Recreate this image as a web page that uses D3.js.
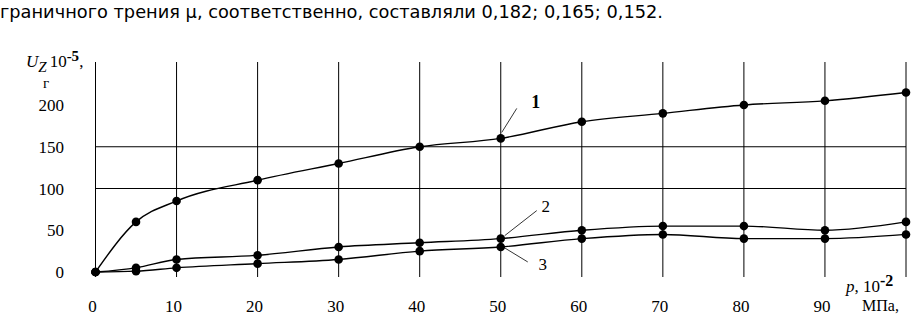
<!DOCTYPE html>
<html>
<head>
<meta charset="utf-8"/>
<script src="https://d3js.org/d3.v7.min.js"></script>
<style>
  body { margin: 0; background: #fff; }
  svg { display: block; }
  .serif { font-family: "Liberation Serif", "Times New Roman", serif; }
</style>
</head>
<body>
<div id="chart"></div>
<script>
  // pressure p, 10^-2 MPa
  const pressure = [0, 5, 10, 20, 30, 40, 50, 60, 70, 80, 90, 100];
  // wear U_z, 10^-5 g
  const curve1 = [0, 60, 85, 110, 130, 150, 160, 180, 190, 200, 205, 215];
  const curve2 = [0, 5, 15, 20, 30, 35, 40, 50, 55, 55, 50, 60];
  const curve3 = [0, 1, 5, 10, 15, 25, 30, 40, 45, 40, 40, 45];
  const seriesNames = ["1", "2", "3"];
  const xTicks = [0, 10, 20, 30, 40, 50, 60, 70, 80, 90];
  const xGrid = [0, 10, 20, 30, 40, 50, 60, 70, 80, 90, 100];
  const yTicks = [0, 50, 100, 150, 200];
  const yGrid = [100, 150];

  const width = 912, height = 317;

  const x = d3.scaleLinear().domain([0, 100]).range([95.5, 906]);
  const y = d3.scaleLinear().domain([0, 200]).range([272, 105]);

  const svg = d3.select("#chart").append("svg")
      .attr("width", width)
      .attr("height", height);

  // sentence above the figure
  svg.append("text")
      .attr("x", 0)
      .attr("y", 18)
      .attr("font-family", "DejaVu Sans, Tahoma, sans-serif")
      .attr("font-size", 18)
      .attr("textLength", 663)
      .attr("lengthAdjust", "spacingAndGlyphs")
      .text("граничного трения μ, соответственно, составляли 0,182; 0,165; 0,152.");

  // grid
  svg.selectAll("line.vgrid")
      .data(xGrid)
      .enter().append("line")
      .attr("class", "vgrid")
      .attr("x1", d => x(d)).attr("x2", d => x(d))
      .attr("y1", 62).attr("y2", 277)
      .attr("stroke", "#000").attr("stroke-width", 1);

  svg.selectAll("line.hgrid")
      .data(yGrid)
      .enter().append("line")
      .attr("class", "hgrid")
      .attr("x1", x(0)).attr("x2", x(100))
      .attr("y1", d => y(d)).attr("y2", d => y(d))
      .attr("stroke", "#000").attr("stroke-width", 1);

  // tick labels
  svg.selectAll("text.ytick")
      .data(yTicks)
      .enter().append("text")
      .attr("class", "ytick serif")
      .attr("x", 64)
      .attr("y", d => y(d) + 6)
      .attr("text-anchor", "end")
      .attr("font-size", 17)
      .text(d => d);

  svg.selectAll("text.xtick")
      .data(xTicks)
      .enter().append("text")
      .attr("class", "xtick serif")
      .attr("x", d => x(d) - 3)
      .attr("y", 312)
      .attr("text-anchor", "middle")
      .attr("font-size", 17)
      .text(d => d);

  // curves
  const line = d3.line()
      .x((d, i) => x(pressure[i]))
      .y(d => y(d))
      .curve(d3.curveMonotoneX);

  [curve1, curve2, curve3].forEach(s => {
    svg.append("path")
        .datum(s)
        .attr("d", line)
        .attr("fill", "none")
        .attr("stroke", "#000")
        .attr("stroke-width", 1.4);

    svg.selectAll(null)
        .data(s)
        .enter().append("circle")
        .attr("cx", (d, i) => x(pressure[i]))
        .attr("cy", d => y(d))
        .attr("r", 4.3)
        .attr("fill", "#000");
  });

  // leaders and curve numbers
  const labels = [
    { name: seriesNames[0], s: curve1, dx1: 1, dy1: -6, dx2: 16, dy2: -30, tx: 35, ty: -30 },
    { name: seriesNames[1], s: curve2, dx1: 4, dy1: -3, dx2: 36, dy2: -28, tx: 45, ty: -27 },
    { name: seriesNames[2], s: curve3, dx1: 4, dy1: 1, dx2: 27, dy2: 15, tx: 42, ty: 23 }
  ];
  const i50 = pressure.indexOf(50);
  labels.forEach(l => {
    const px = x(50), py = y(l.s[i50]);
    svg.append("line")
        .attr("x1", px + l.dx1).attr("y1", py + l.dy1)
        .attr("x2", px + l.dx2).attr("y2", py + l.dy2)
        .attr("stroke", "#000").attr("stroke-width", 0.8);
    svg.append("text")
        .attr("class", "serif")
        .attr("x", px + l.tx)
        .attr("y", py + l.ty)
        .attr("text-anchor", "middle")
        .attr("font-size", l.name === "1" ? 18 : 17)
        .attr("font-weight", l.name === "1" ? "bold" : "normal")
        .text(l.name);
  });

  // y axis title
  const yt = svg.append("text").attr("class", "serif").attr("font-size", 17);
  yt.append("tspan").attr("x", 26).attr("y", 67).attr("font-style", "italic").text("U");
  yt.append("tspan").attr("dy", 5).attr("font-style", "italic").attr("font-size", 15).text("Z");
  yt.append("tspan").attr("dx", 3).attr("dy", -5).text("10");
  yt.append("tspan").attr("dy", -6).attr("font-size", 15).attr("font-weight", "bold").text("-5");
  yt.append("tspan").attr("dy", 6).text(",");
  svg.append("text").attr("class", "serif").attr("font-size", 15)
      .attr("x", 46).attr("y", 88).attr("text-anchor", "middle").text("г");

  // x axis title
  const xt = svg.append("text").attr("class", "serif").attr("font-size", 17);
  xt.append("tspan").attr("x", 846).attr("y", 292).attr("font-style", "italic").text("p");
  xt.append("tspan").text(", 10");
  xt.append("tspan").attr("dy", -6).attr("font-size", 16).attr("font-weight", "bold").text("-2");
  svg.append("text").attr("class", "serif").attr("font-size", 16)
      .attr("x", 862).attr("y", 311).text("МПа,");
</script>
</body>
</html>
